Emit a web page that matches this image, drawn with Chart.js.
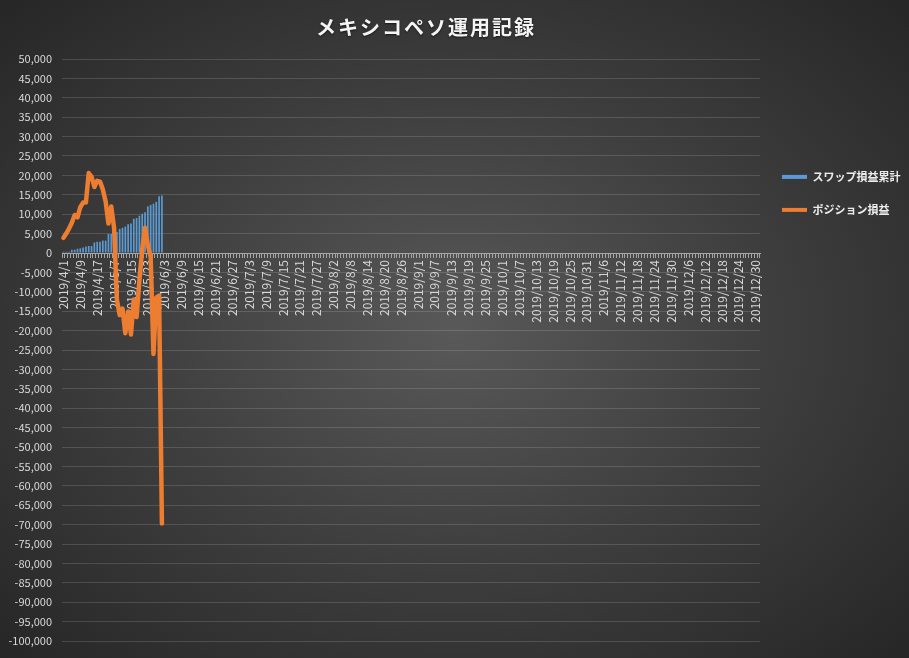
<!DOCTYPE html>
<html lang="ja">
<head>
<meta charset="utf-8">
<title>メキシコペソ運用記録</title>
<script src="https://cdn.jsdelivr.net/npm/chart.js@4.4.1/dist/chart.umd.min.js"></script>
<style>
    html, body { margin: 0; padding: 0; background: #2a2a2a; }
    #wrap {
        position: relative; width: 909px; height: 658px; overflow: hidden;
        background: radial-gradient(ellipse farthest-corner at 50% 50%, #595959 0%, #3e3e3e 50%, #262626 100%);
    }
    #title {
        position: absolute; left: 0; top: 12px; width: 852px; text-align: center;
        font: bold 20px 'Noto Sans CJK JP', sans-serif; letter-spacing: 2px;
        color: #f4f4f4; text-shadow: 0 1px 2px rgba(0,0,0,0.6);
    }
    #chart { position: absolute; left: 0; top: 0; }
</style>
</head>
<body>
<div id="wrap">
    <canvas id="chart" width="909" height="658"></canvas>
    <div id="title">メキシコペソ運用記録</div>
</div>
<script>
(function () {
    'use strict';

    // ── Data ────────────────────────────────────────────────────
    // trading days recorded (weekdays, holidays skipped)
    const TRADE_DATES = [
        '2019/4/1','2019/4/2','2019/4/3','2019/4/4','2019/4/5','2019/4/8','2019/4/9',
        '2019/4/10','2019/4/11','2019/4/12','2019/4/15','2019/4/16','2019/4/17','2019/4/18',
        '2019/4/22','2019/4/23','2019/4/24','2019/4/25','2019/5/7','2019/5/8','2019/5/9',
        '2019/5/10','2019/5/13','2019/5/14','2019/5/15','2019/5/16','2019/5/17','2019/5/20',
        '2019/5/21','2019/5/22','2019/5/23','2019/5/24','2019/5/28','2019/5/29','2019/5/30',
        '2019/5/31',
    ];
    // the sheet continues with empty calendar rows
    const EMPTY_FROM = '2019-06-03';
    const EMPTY_TO   = '2019-12-31';
    const LABEL_STEP = 6;

    const SWAP_TOTAL = [
        300, 300, 300, 850, 850, 1100, 1200, 1400, 1700, 1800, 1800, 2700,
        2900, 2900, 3200, 3200, 4900, 4900, 5400, 5400, 6200, 6500, 6800, 7400,
        7600, 8800, 9000, 9600, 10100, 10500, 12000, 12400, 12700, 13200, 14600, 14800,
    ];
    const POSITION_PL = [
        3900, 5000, 6300, 7800, 9800, 9200, 11800, 13000, 13000, 20600, 19700, 17000,
        18600, 18400, 16400, 13300, 7600, 12000, 6500, -12000, -16000, -14300, -20700, -15100,
        -21000, -12000, -16500, -7000, 1000, 6500, 2000, -1000, -26000, -11500, -11000, -69700,
    ];

    const SERIES_NAMES  = ['スワップ損益累計', 'ポジション損益'];
    const SERIES_COLORS = ['#5b9bd5', '#ed7d31'];

    const Y_MIN = -100000, Y_MAX = 50000, Y_STEP = 5000;

    const FONT = "'Noto Sans CJK JP', 'Noto Sans', sans-serif";
    const TEXT = '#d9d9d9';

    // ── Helpers ─────────────────────────────────────────────────
    function calendarLabels(from, to) {
        const out = [];
        const d = new Date(from + 'T00:00:00');
        const end = new Date(to + 'T00:00:00');
        while (d <= end) {
            out.push(d.getFullYear() + '/' + (d.getMonth() + 1) + '/' + d.getDate());
            d.setDate(d.getDate() + 1);
        }
        return out;
    }

    const labels = TRADE_DATES.concat(calendarLabels(EMPTY_FROM, EMPTY_TO));

    // ── Chart ───────────────────────────────────────────────────
    new Chart(document.getElementById('chart'), {
        type: 'bar',
        data: {
            labels,
            datasets: [
                {
                    type: 'bar',
                    label: SERIES_NAMES[0],
                    data: SWAP_TOTAL,
                    backgroundColor: SERIES_COLORS[0],
                    borderWidth: 0,
                    categoryPercentage: 1,
                    barPercentage: 0.6,
                    order: 1,
                },
                {
                    type: 'line',
                    label: SERIES_NAMES[1],
                    data: POSITION_PL,
                    borderColor: SERIES_COLORS[1],
                    backgroundColor: SERIES_COLORS[1],
                    borderWidth: 4.5,
                    borderJoinStyle: 'round',
                    borderCapStyle: 'round',
                    pointRadius: 0,
                    tension: 0,
                    fill: false,
                    order: 0,
                },
            ],
        },
        options: {
            responsive: false,
            animation: false,
            layout: { padding: { top: 59, bottom: 17, left: 0, right: 0 } },
            plugins: {
                title: { display: false },
                tooltip: { enabled: false },
                legend: {
                    position: 'right',
                    align: 'start',
                    maxWidth: 149,
                    title: { display: true, text: '', padding: { top: 0, bottom: 76 } },
                    labels: {
                        boxWidth: 25,
                        boxHeight: 4,
                        padding: 22,
                        color: '#ececec',
                        font: { family: FONT, size: 11, weight: 'bold' },
                        sort: (a, b) => a.datasetIndex - b.datasetIndex,
                        generateLabels(chart) {
                            return Chart.defaults.plugins.legend.labels.generateLabels(chart).map(item => {
                                item.fillStyle = SERIES_COLORS[item.datasetIndex];
                                item.strokeStyle = SERIES_COLORS[item.datasetIndex];
                                item.lineWidth = 0;
                                return item;
                            });
                        },
                    },
                },
            },
            scales: {
                x: {
                    position: { y: 0 },
                    offset: true,
                    grid: {
                        drawOnChartArea: false,
                        drawTicks: true,
                        tickLength: 4,
                        tickColor: '#a6a6a6',
                        offset: true,
                    },
                    border: { display: true, color: '#a6a6a6', width: 1 },
                    ticks: {
                        autoSkip: false,
                        maxRotation: 90,
                        minRotation: 90,
                        padding: 3,
                        color: TEXT,
                        font: { family: FONT, size: 12 },
                        callback: function (v, i) {
                            return i % LABEL_STEP === 0 ? this.getLabelForValue(v) : '';
                        },
                    },
                },
                y: {
                    min: Y_MIN,
                    max: Y_MAX,
                    grid: { color: 'rgba(255,255,255,0.14)', drawTicks: false },
                    border: { display: false },
                    ticks: {
                        stepSize: Y_STEP,
                        padding: 10,
                        color: TEXT,
                        font: { family: FONT, size: 11 },
                        callback: v => v.toLocaleString('en-US'),
                    },
                    afterFit(scale) { scale.width = 62; },
                },
            },
        },
    });
})();
</script>
</body>
</html>
